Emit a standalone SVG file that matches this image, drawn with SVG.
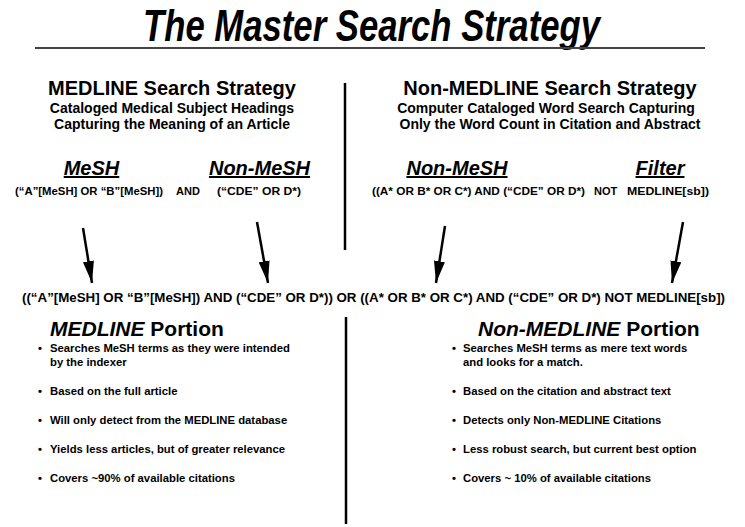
<svg xmlns="http://www.w3.org/2000/svg" width="745" height="527" viewBox="0 0 745 527">
<style>
text{font-family:"Liberation Sans",Arial,sans-serif;font-weight:bold;fill:#000}
.title{font-size:44px;font-style:italic}
.h1{font-size:20px}
.sub{font-size:14px}
.hd{font-size:20px;font-style:italic;text-decoration:underline}
.lbl{font-size:11px}
.form{font-size:13.5px}
.por{font-size:21px}
.it{font-style:italic}
.bul{font-size:11.3px}
.div{stroke:#000;stroke-width:2.5}
.arr{stroke:#000;stroke-width:2.5;fill:none}
</style>
<defs>
<marker id="ah2" viewBox="0 0 20 10" refX="20" refY="5" markerWidth="22" markerHeight="11" markerUnits="userSpaceOnUse" orient="auto">
<path d="M0,0 L20,5 L0,10 z" fill="#000"/>
</marker>
</defs>
<rect width="745" height="527" fill="#fff"/>
<g id="title">
<text class="title" x="143" y="41" textLength="457" lengthAdjust="spacingAndGlyphs">The Master Search Strategy</text>
<line x1="35" y1="48" x2="705" y2="48" stroke="#444" stroke-width="2"/>
</g>
<g id="medline-strategy">
<text class="h1" x="172" y="95" text-anchor="middle">MEDLINE Search Strategy</text>
<text class="sub" x="172" y="113" text-anchor="middle">Cataloged Medical Subject Headings</text>
<text class="sub" x="172" y="129" text-anchor="middle">Capturing the Meaning of an Article</text>
</g>
<g id="nonmedline-strategy">
<text class="h1" x="550" y="95" text-anchor="middle">Non-MEDLINE Search Strategy</text>
<text class="sub" x="546" y="113" text-anchor="middle">Computer Cataloged Word Search Capturing</text>
<text class="sub" x="550" y="129" text-anchor="middle">Only the Word Count in Citation and Abstract</text>
</g>
<g id="mesh">
<text class="hd" x="91.5" y="175" text-anchor="middle">MeSH</text>
<text class="lbl" x="15" y="195" textLength="148" lengthAdjust="spacingAndGlyphs">(“A”[MeSH] OR “B”[MeSH])</text>
</g>
<g id="and-op">
<text class="lbl" x="176" y="195">AND</text>
</g>
<g id="nonmesh-left">
<text class="hd" x="259.5" y="175" text-anchor="middle">Non-MeSH</text>
<text class="lbl" x="217" y="195" textLength="84" lengthAdjust="spacingAndGlyphs">(“CDE” OR D*)</text>
</g>
<g id="nonmesh-right">
<text class="hd" x="457" y="175" text-anchor="middle">Non-MeSH</text>
<text class="lbl" x="372" y="195" textLength="213" lengthAdjust="spacingAndGlyphs">((A* OR B* OR C*) AND (“CDE” OR D*)</text>
</g>
<g id="not-op">
<text class="lbl" x="594" y="195">NOT</text>
</g>
<g id="filter">
<text class="hd" x="660" y="175" text-anchor="middle">Filter</text>
<text class="lbl" x="627" y="195" textLength="82" lengthAdjust="spacingAndGlyphs">MEDLINE[sb])</text>
</g>
<g id="combined">
<text class="form" x="22" y="302" textLength="703" lengthAdjust="spacingAndGlyphs">((“A”[MeSH] OR “B”[MeSH]) AND (“CDE” OR D*)) OR ((A* OR B* OR C*) AND (“CDE” OR D*) NOT MEDLINE[sb])</text>
</g>
<g id="connectors">
<line class="div" x1="345" y1="83" x2="345" y2="250"/>
<line class="div" x1="346" y1="317" x2="346" y2="524"/>
<line class="arr" x1="83" y1="228" x2="92" y2="283" marker-end="url(#ah2)"/>
<line class="arr" x1="257" y1="222" x2="268" y2="283" marker-end="url(#ah2)"/>
<line class="arr" x1="445" y1="226" x2="436" y2="283" marker-end="url(#ah2)"/>
<line class="arr" x1="683" y1="222" x2="672" y2="283" marker-end="url(#ah2)"/>
</g>
<g id="medline-portion">
<text class="por" x="50" y="336"><tspan class="it">MEDLINE</tspan> Portion</text>
<text class="bul" x="38" y="352">•</text>
<text class="bul" x="50" y="352">Searches MeSH terms as they were intended</text>
<text class="bul" x="50" y="366">by the indexer</text>
<text class="bul" x="38" y="395">•</text>
<text class="bul" x="50" y="395">Based on the full article</text>
<text class="bul" x="38" y="424">•</text>
<text class="bul" x="50" y="424">Will only detect from the MEDLINE database</text>
<text class="bul" x="38" y="453">•</text>
<text class="bul" x="50" y="453">Yields less articles, but of greater relevance</text>
<text class="bul" x="38" y="482">•</text>
<text class="bul" x="50" y="482">Covers ~90% of available citations</text>
</g>
<g id="nonmedline-portion">
<text class="por" x="478" y="336"><tspan class="it">Non-MEDLINE</tspan> Portion</text>
<text class="bul" x="452" y="352">•</text>
<text class="bul" x="463" y="352">Searches MeSH terms as mere text words</text>
<text class="bul" x="463" y="366">and looks for a match.</text>
<text class="bul" x="452" y="395">•</text>
<text class="bul" x="463" y="395">Based on the citation and abstract text</text>
<text class="bul" x="452" y="424">•</text>
<text class="bul" x="463" y="424">Detects only Non-MEDLINE Citations</text>
<text class="bul" x="452" y="453">•</text>
<text class="bul" x="463" y="453">Less robust search, but current best option</text>
<text class="bul" x="452" y="482">•</text>
<text class="bul" x="463" y="482">Covers ~ 10% of available citations</text>
</g>
</svg>
